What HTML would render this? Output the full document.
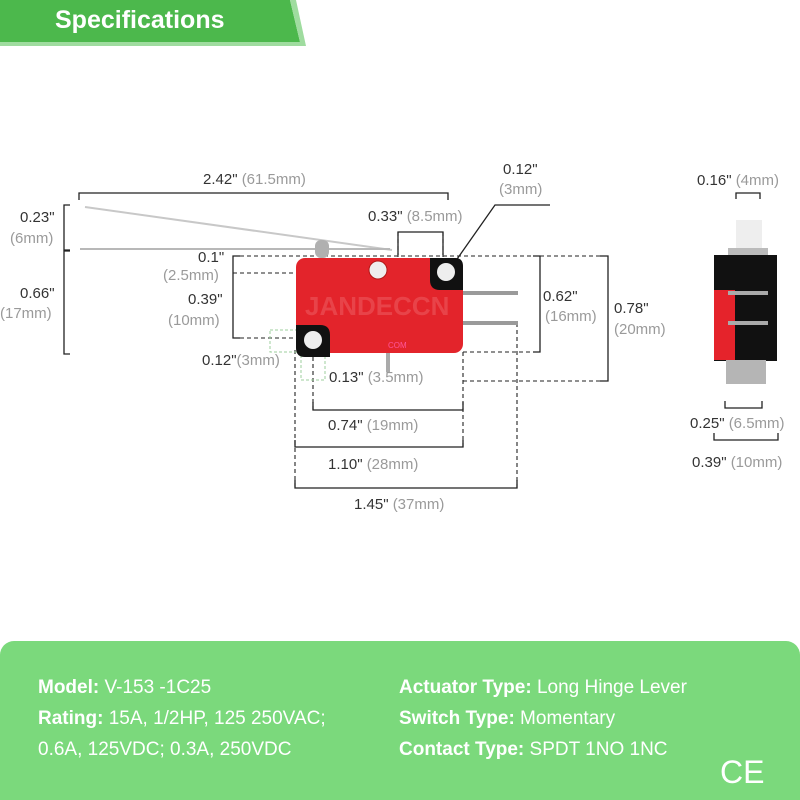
<!DOCTYPE html>
<html><head><meta charset="utf-8"><style>
html,body{margin:0;padding:0;width:800px;height:800px;background:#fff;overflow:hidden;font-family:"Liberation Sans",sans-serif}
svg text{font-family:"Liberation Sans",sans-serif}
.d{fill:#333;font-size:15px}.g{fill:#9a9a9a}
.info{position:absolute;left:0;top:641px;width:800px;height:159px;background:#7bd97c;border-radius:14px 14px 0 0}
.info div{position:absolute;color:#fff;font-size:19px;line-height:31px}
.info b{font-weight:bold}
</style></head><body>
<svg width="800" height="800" style="position:absolute;left:0;top:0">
<polygon points="0,0 290,0 300,42 0,42" fill="#4cb84c"/>
<polygon points="290,0 296,0 306,46 0,46 0,42 300,42" fill="#9fdc9f"/>
<text x="55" y="28" font-size="25" font-weight="bold" fill="#fff">Specifications</text>
<g stroke="#222" stroke-width="1.3" fill="none">
<polyline points="79,200 79,193 448,193 448,200"/>
<polyline points="70,205 64,205 64,250 70,250"/>
<polyline points="70,251 64,251 64,354 70,354"/>
<polyline points="398,255 398,232 443,232 443,255"/>
<polyline points="240,256 233,256 233,338 240,338"/>
<polyline points="313,402 313,410 463,410 463,402"/>
<polyline points="295,440 295,447 463,447 463,440"/>
<polyline points="295,480 295,488 517,488 517,480"/>
<polyline points="533,256 540,256 540,352 533,352"/>
<polyline points="600,256 608,256 608,381 600,381"/>
<polyline points="455,262 495,205 550,205"/>
<polyline points="736,199 736,193 760,193 760,199"/>
<polyline points="725,401 725,408 762,408 762,401"/>
<polyline points="714,433 714,440 778,440 778,433"/>
</g>
<g stroke="#222" stroke-width="1.1" fill="none" stroke-dasharray="4,3">
<line x1="233" y1="256" x2="540" y2="256"/>
<line x1="233" y1="273" x2="440" y2="273"/>
<line x1="233" y1="338" x2="300" y2="338"/>
<line x1="540" y1="256" x2="608" y2="256"/>
<line x1="463" y1="381" x2="608" y2="381"/>
<line x1="463" y1="352" x2="540" y2="352"/>
<line x1="313" y1="350" x2="313" y2="410"/>
<line x1="295" y1="350" x2="295" y2="488"/>
<line x1="463" y1="352" x2="463" y2="447"/>
<line x1="517" y1="323" x2="517" y2="488"/>
<line x1="398" y1="232" x2="398" y2="258"/>
<line x1="443" y1="232" x2="443" y2="258"/>
</g>
<rect x="270" y="330" width="55" height="22" fill="none" stroke="#9ccf9c" stroke-dasharray="3,2"/>
<rect x="301" y="340" width="24" height="40" fill="none" stroke="#9ccf9c" stroke-dasharray="3,2"/>
<line x1="85" y1="207" x2="392" y2="250" stroke="#c8c8c8" stroke-width="2"/>
<line x1="80" y1="249" x2="390" y2="249" stroke="#b8b8b8" stroke-width="2"/>
<rect x="315" y="240" width="14" height="18" rx="6" fill="#b0b0b0"/>
<rect x="460" y="291" width="58" height="4" fill="#9a9a9a"/>
<rect x="460" y="321" width="58" height="4" fill="#9a9a9a"/>
<rect x="386" y="352" width="4" height="20" fill="#aaa"/>
<rect x="296" y="258" width="167" height="95" rx="9" fill="#e3242b"/>
<path d="M430 258 H455 Q463 258 463 266 V290 H440 Q430 290 430 280 Z" fill="#111"/>
<circle cx="446" cy="272" r="9" fill="#eee"/>
<path d="M296 325 H320 Q330 325 330 335 V357 H305 Q296 357 296 348 Z" fill="#111"/>
<circle cx="313" cy="340" r="9" fill="#eee"/>
<circle cx="378" cy="270" r="9" fill="#eee" stroke="#b01818"/>
<text x="305" y="315" font-size="26" font-weight="bold" fill="#f06a6f" opacity="0.45">JANDECCN</text>
<text x="388" y="348" font-size="8" fill="#f59">COM</text>
<rect x="736" y="220" width="26" height="32" fill="#eee"/>
<rect x="728" y="248" width="40" height="8" fill="#bbb"/>
<rect x="714" y="255" width="63" height="106" fill="#111"/>
<rect x="714" y="290" width="21" height="70" fill="#e5232b"/>
<rect x="728" y="291" width="40" height="4" fill="#aaa"/>
<rect x="728" y="321" width="40" height="4" fill="#aaa"/>
<rect x="726" y="360" width="40" height="24" fill="#b5b5b5"/>
<g class="d">
<text x="203" y="184">2.42" <tspan class="g">(61.5mm)</tspan></text>
<text x="503" y="174">0.12"</text><text x="499" y="194" class="g">(3mm)</text>
<text x="20" y="222">0.23"</text><text x="10" y="243" class="g">(6mm)</text>
<text x="368" y="221">0.33" <tspan class="g">(8.5mm)</tspan></text>
<text x="198" y="262">0.1"</text><text x="163" y="280" class="g">(2.5mm)</text>
<text x="20" y="298">0.66"</text><text x="0" y="318" class="g">(17mm)</text>
<text x="188" y="304">0.39"</text><text x="168" y="325" class="g">(10mm)</text>
<text x="202" y="365">0.12"<tspan class="g">(3mm)</tspan></text>
<text x="329" y="382">0.13" <tspan class="g">(3.5mm)</tspan></text>
<text x="543" y="301">0.62"</text><text x="545" y="321" class="g">(16mm)</text>
<text x="614" y="313">0.78"</text><text x="614" y="334" class="g">(20mm)</text>
<text x="328" y="430">0.74" <tspan class="g">(19mm)</tspan></text>
<text x="328" y="469">1.10" <tspan class="g">(28mm)</tspan></text>
<text x="354" y="509">1.45" <tspan class="g">(37mm)</tspan></text>
<text x="697" y="185">0.16" <tspan class="g">(4mm)</tspan></text>
<text x="690" y="428">0.25" <tspan class="g">(6.5mm)</tspan></text>
<text x="692" y="467">0.39" <tspan class="g">(10mm)</tspan></text>
</g>
</svg>
<div class="info">
<div style="left:38px;top:31px"><b>Model:</b> V-153 -1C25<br><b>Rating:</b> 15A, 1/2HP, 125 250VAC;<br>0.6A, 125VDC; 0.3A, 250VDC</div>
<div style="left:399px;top:31px"><b>Actuator Type:</b> Long Hinge Lever<br><b>Switch Type:</b> Momentary<br><b>Contact Type:</b> SPDT 1NO 1NC</div>
<div style="left:720px;top:116px;font-size:32px">CE</div>
</div>
</body></html>
